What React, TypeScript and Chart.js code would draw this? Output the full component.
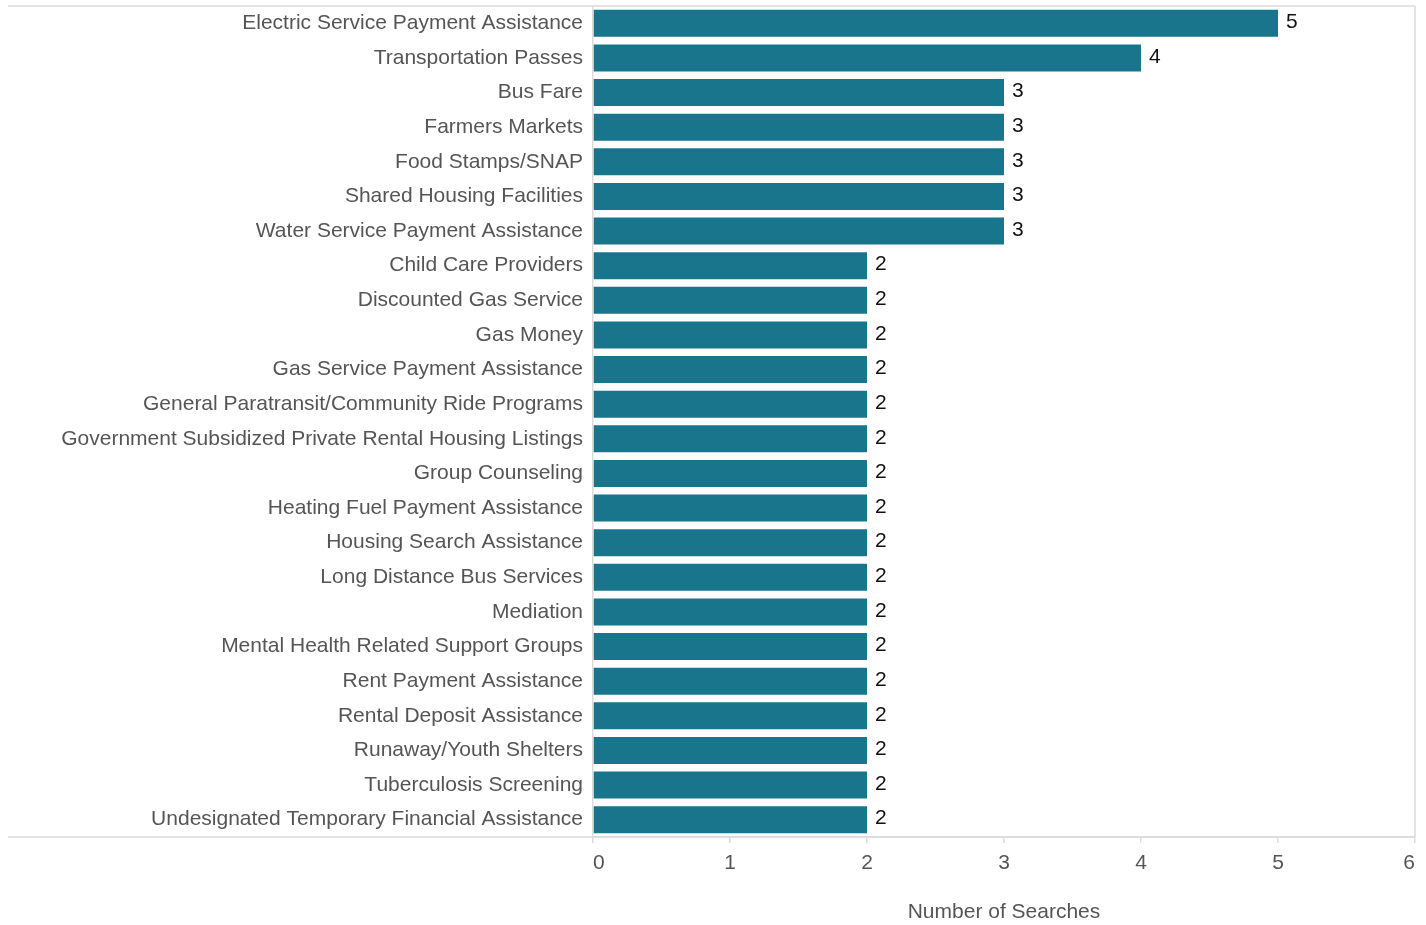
import React, { useEffect, useRef } from "react";
import { Chart, registerables } from "chart.js";

Chart.register(...registerables);

const categories = [
  "Electric Service Payment Assistance",
  "Transportation Passes",
  "Bus Fare",
  "Farmers Markets",
  "Food Stamps/SNAP",
  "Shared Housing Facilities",
  "Water Service Payment Assistance",
  "Child Care Providers",
  "Discounted Gas Service",
  "Gas Money",
  "Gas Service Payment Assistance",
  "General Paratransit/Community Ride Programs",
  "Government Subsidized Private Rental Housing Listings",
  "Group Counseling",
  "Heating Fuel Payment Assistance",
  "Housing Search Assistance",
  "Long Distance Bus Services",
  "Mediation",
  "Mental Health Related Support Groups",
  "Rent Payment Assistance",
  "Rental Deposit Assistance",
  "Runaway/Youth Shelters",
  "Tuberculosis Screening",
  "Undesignated Temporary Financial Assistance",
];

const searches = [5, 4, 3, 3, 3, 3, 3, 2, 2, 2, 2, 2, 2, 2, 2, 2, 2, 2, 2, 2, 2, 2, 2, 2];

const xTicks = [0, 1, 2, 3, 4, 5, 6];
const axisTitle = "Number of Searches";

const FONT = "'Liberation Sans', Arial, Helvetica, sans-serif";
const LINE = "#dcdcdc";
const FS = 21;

const framePlugin = {
  id: "frame",
  afterDraw(chart: any) {
    const { ctx, chartArea } = chart;
    ctx.save();
    ctx.strokeStyle = LINE;
    ctx.lineWidth = 1.5;
    ctx.beginPath();
    ctx.moveTo(8, chartArea.top);
    ctx.lineTo(chartArea.right, chartArea.top);
    ctx.moveTo(8, chartArea.bottom);
    ctx.lineTo(chartArea.right, chartArea.bottom);
    ctx.moveTo(chartArea.right, chartArea.top);
    ctx.lineTo(chartArea.right, chartArea.bottom);
    ctx.stroke();
    // value labels
    const meta = chart.getDatasetMeta(0);
    ctx.fillStyle = "#111";
    ctx.font = `${FS}px ${FONT}`;
    ctx.textBaseline = "middle";
    ctx.textAlign = "left";
    meta.data.forEach((bar: any, i: number) => {
      const v = chart.data.datasets[0].data[i];
      ctx.fillText(String(v), bar.x + 8, bar.y - 1);
    });
    ctx.restore();
  },
};

export default function App() {
  const ref = useRef<HTMLCanvasElement>(null);
  useEffect(() => {
    const chart = new Chart(ref.current!, {
      type: "bar",
      data: {
        labels: categories,
        datasets: [
          {
            data: searches,
            backgroundColor: "#19758c",
            barPercentage: 0.78,
            categoryPercentage: 1,
          },
        ],
      },
      options: {
        indexAxis: "y",
        animation: false,
        responsive: false,
        layout: { padding: { left: 8, top: 6, right: 11, bottom: 0 } },
        plugins: { legend: { display: false }, tooltip: { enabled: false } },
        scales: {
          x: {
            min: 0,
            max: 6,
            afterBuildTicks: (s: any) => {
              s.ticks = xTicks.map((v) => ({ value: v }));
            },
            afterFit: (s: any) => {
              s.height = 88;
              s.paddingLeft = 0;
              s.paddingRight = 0;
            },
            grid: {
              drawOnChartArea: false,
              drawTicks: true,
              tickLength: 6,
              color: LINE,
              lineWidth: 1.5,
            },
            border: { display: true, color: LINE, width: 1.5 },
            ticks: {
              color: "#555",
              font: { size: FS, family: FONT },
              padding: 8,
              align: "inner",
            },
            title: {
              display: true,
              text: axisTitle,
              color: "#555",
              font: { size: FS, family: FONT },
              padding: { top: 20, bottom: 0 },
            },
          },
          y: {
            afterFit: (s: any) => {
              s.width = 585;
              s.paddingTop = 0;
              s.paddingBottom = 0;
            },
            grid: { display: false, drawTicks: false },
            border: { display: true, color: LINE, width: 1.5 },
            ticks: {
              color: "#555",
              font: { size: FS, family: FONT },
              padding: 10,
              autoSkip: false,
            },
          },
        },
      },
      plugins: [framePlugin],
    });
    return () => chart.destroy();
  }, []);
  return (
    <div style={{ position: "fixed", left: 0, top: 0, width: 1426, height: 925, background: "#fff" }}>
      <canvas ref={ref} width={1426} height={925} style={{ width: 1426, height: 925 }} />
    </div>
  );
}
